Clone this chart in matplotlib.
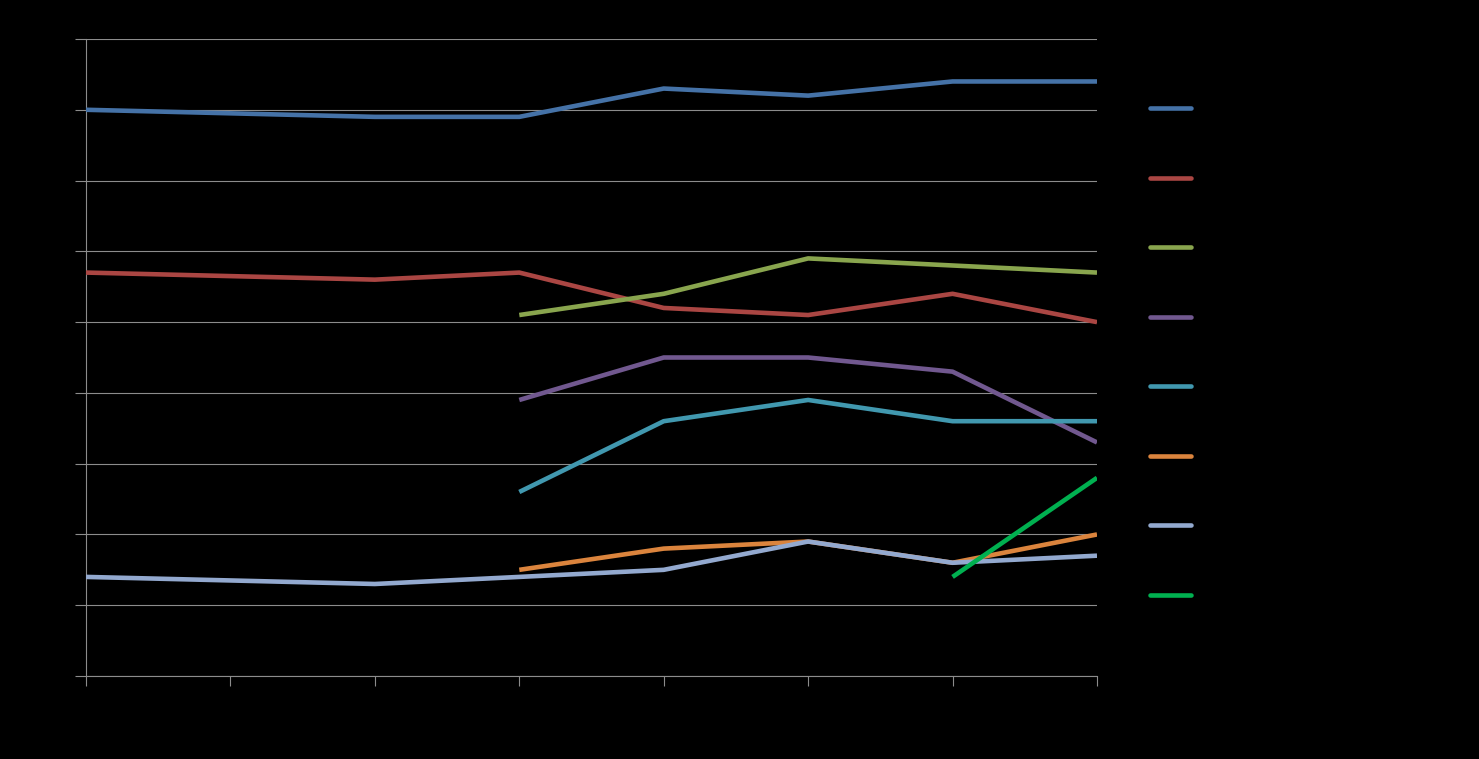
import numpy as np
import matplotlib
matplotlib.use("Agg")
import matplotlib.pyplot as plt

# category positions (x=1 has no data point in the picture)
x_full = [0, 2, 3, 4, 5, 6, 7]
x_late = [3, 4, 5, 6, 7]
x_last = [6, 7]

blue = [80, 79, 79, 83, 82, 84, 84]
red = [57, 56, 57, 52, 51, 54, 50]
green = [51, 54, 59, 58, 57]
purple = [39, 45, 45, 43, 33]
teal = [26, 36, 39, 36, 36]
orange = [15, 18, 19, 16, 20]
light_blue = [14, 13, 14, 15, 19, 16, 17]
bright_green = [14, 28]

series = [
    (x_full, blue, '#4572A7'),
    (x_full, red, '#AA4643'),
    (x_late, green, '#89A54E'),
    (x_late, purple, '#71588F'),
    (x_late, teal, '#4198AF'),
    (x_late, orange, '#DB843D'),
    (x_full, light_blue, '#93A9CF'),
    (x_last, bright_green, '#00B050'),
]

fig = plt.figure(figsize=(14.79, 7.59), dpi=100, facecolor='black')
ax = fig.add_axes([86 / 1479, 83 / 759, (1097 - 86) / 1479, (676 - 39) / 759])
ax.set_facecolor('black')

grid_col = '#8C8C8C'
handles = []
for xs, ys, col in series:
    ln, = ax.plot(xs, ys, color=col, linewidth=3.3, solid_capstyle='butt', zorder=3)
    handles.append(ln)

ax.set_xlim(0, 7)
ax.set_ylim(0, 90)
ax.set_xticks(range(8))
ax.set_yticks(np.arange(0, 91, 10))
ax.set_xticklabels([])
ax.set_yticklabels([])
ax.yaxis.grid(True, color=grid_col, linewidth=0.8)
ax.set_axisbelow(True)
ax.tick_params(axis='x', direction='out', length=7.5, color=grid_col, width=0.8)
ax.tick_params(axis='y', direction='out', length=8, color=grid_col, width=0.8)
for s in ['top', 'right']:
    ax.spines[s].set_visible(False)
for s in ['left', 'bottom']:
    ax.spines[s].set_color(grid_col)
    ax.spines[s].set_linewidth(0.8)

leg = fig.legend(handles, [''] * len(handles), loc='upper left',
                 bbox_to_anchor=(1150 / 1479, 1 - 102 / 759),
                 frameon=False, fontsize=10, handlelength=2.95,
                 labelspacing=4.0, borderpad=0, borderaxespad=0,
                 labelcolor='black')
for h in leg.get_lines():
    h.set_linewidth(3.3)
    h.set_solid_capstyle('round')

fig.savefig('out.png', dpi=100, facecolor='black')
